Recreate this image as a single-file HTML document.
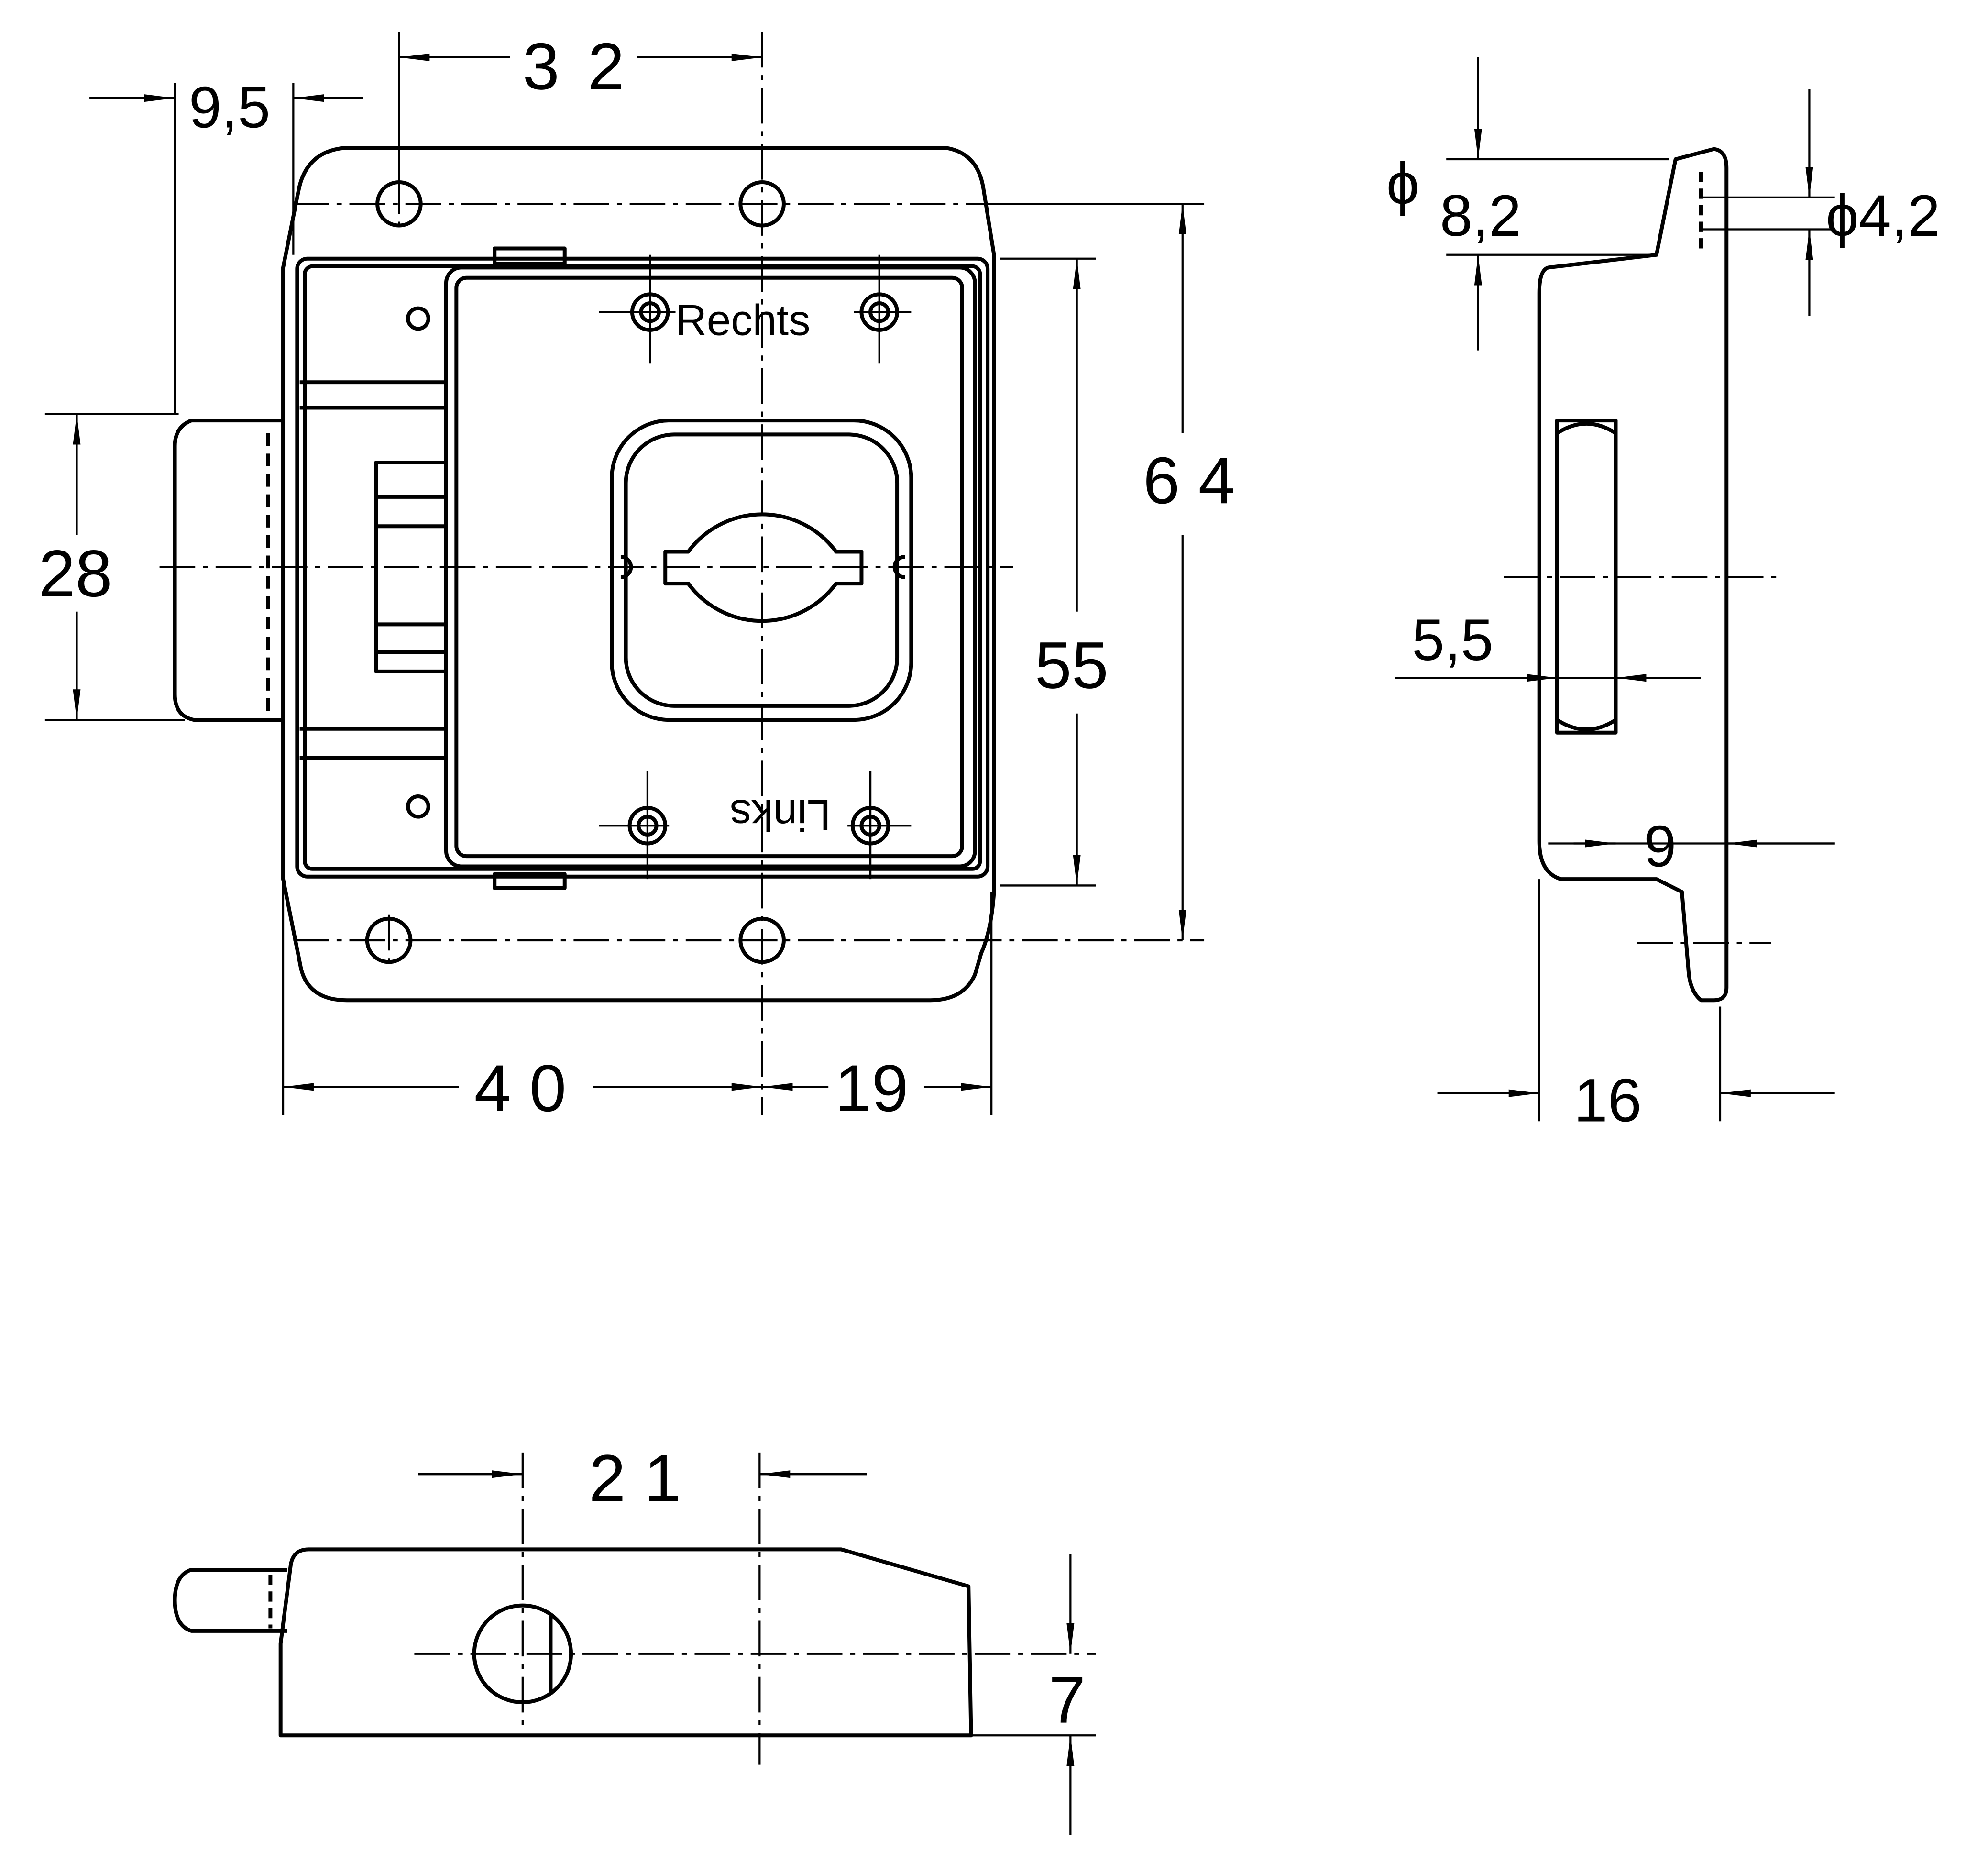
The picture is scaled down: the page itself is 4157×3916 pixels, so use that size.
<!DOCTYPE html>
<html><head><meta charset="utf-8"><style>
html,body{margin:0;padding:0;background:#fff;}
svg{display:block;}
text{font-family:"Liberation Sans",sans-serif;fill:#000;}
</style></head><body>
<svg width="4157" height="3916" viewBox="0 0 1560 1470" xmlns="http://www.w3.org/2000/svg">
<defs>
<marker id="a" viewBox="0 0 24 8" refX="24" refY="4" markerWidth="24" markerHeight="8" markerUnits="userSpaceOnUse" orient="auto">
<path d="M0,1 L24,4 L0,7 Z" fill="#000"/></marker>
</defs>
<g fill="none" stroke="#000" stroke-width="3" stroke-linejoin="round">
<path d="M272,116 L742,116 Q768,120 772,150 L780,200 L780,700 Q778,730 770,748 L765,765 Q756,785 730,785 L272,785 Q242,785 236,760 L222,690 L222,210 Q228,180 234,150 Q240,118 272,116 Z"/>
<rect x="233" y="203" width="542" height="485" rx="8"/>
<rect x="239" y="209" width="530" height="473" rx="6"/>
<rect x="350" y="210" width="415" height="470" rx="12"/>
<rect x="358" y="218" width="397" height="454" rx="8"/>
<rect x="388" y="195" width="55" height="12"/>
<rect x="388" y="686" width="55" height="11"/>
<circle cx="328" cy="250" r="8"/><circle cx="328" cy="633" r="8"/>
<path d="M235,300 H350 M235,320 H350 M235,572 H350 M235,595 H350"/>
<rect x="295" y="363" width="55" height="164"/>
<path d="M295,390 H350 M295,413 H350 M295,490 H350 M295,512 H350"/>
<path d="M222,330 L150,330 Q137,335 137,350 L137,545 Q137,562 152,565 L222,565"/>
<path d="M210,340 V560" stroke-dasharray="10,6"/>
<circle cx="313" cy="160" r="17"/><circle cx="598" cy="160" r="17"/>
<circle cx="305" cy="738" r="17"/><circle cx="598" cy="738" r="17"/>
<circle cx="510" cy="245" r="14"/><circle cx="510" cy="245" r="7"/>
<circle cx="690" cy="245" r="14"/><circle cx="690" cy="245" r="7"/>
<circle cx="508" cy="648" r="14"/><circle cx="508" cy="648" r="7"/>
<circle cx="683" cy="648" r="14"/><circle cx="683" cy="648" r="7"/>
<path d="M510,200 V285 M690,200 V285 M508,605 V690 M683,605 V690 M470,245 H530 M670,245 H715 M470,648 H525 M665,648 H715" stroke-width="1.6"/>
<rect x="480" y="330" width="235" height="235" rx="45"/>
<rect x="491" y="341" width="213" height="213" rx="38"/>
<path d="M540,433 A72,72 0 0 1 656,433 L676,433 L676,458 L656,458 A72,72 0 0 1 540,458 L522,458 L522,433 Z"/>
<path d="M487,437 A8,8 0 0 1 487,453 M710,437 A8,8 0 0 0 710,453"/>
<g stroke-width="1.6" stroke-dasharray="28,6,4,6">
<path d="M598,25 V875 M125,445 H795 M230,160 H775 M230,738 H945 M313,140 V180 M305,718 V758"/>
</g>
<g stroke-width="1.6">
<path d="M313,25 V140 M137,65 V325 M230,65 V200 M35,325 H140 M35,565 H145 M775,160 H945 M785,203 H860 M785,695 H860 M222,690 V875 M778,700 V875"/>
<path d="M400,45 H313" marker-end="url(#a)"/><path d="M500,45 H598" marker-end="url(#a)"/>
<path d="M70,77 H137" marker-end="url(#a)"/><path d="M285,77 H230" marker-end="url(#a)"/>
<path d="M60,420 V325" marker-end="url(#a)"/><path d="M60,480 V565" marker-end="url(#a)"/>
<path d="M928,340 V160" marker-end="url(#a)"/><path d="M928,420 V738" marker-end="url(#a)"/>
<path d="M845,480 V203" marker-end="url(#a)"/><path d="M845,560 V695" marker-end="url(#a)"/>
<path d="M360,853 H222" marker-end="url(#a)"/><path d="M465,853 H598" marker-end="url(#a)"/>
<path d="M650,853 H598" marker-end="url(#a)"/><path d="M725,853 H778" marker-end="url(#a)"/>
</g>
<path d="M1215,210 L1300,200 L1315,125 L1345,117 Q1355,118 1355,132 L1355,775 Q1355,785 1345,785 L1335,785 Q1326,778 1325,760 L1320,700 L1300,690 L1225,690 Q1208,685 1208,660 L1208,230 Q1208,212 1215,210 Z"/>
<path d="M1222,330 H1268 V575 H1222 Z"/>
<path d="M1222,340 Q1245,325 1268,340 M1222,565 Q1245,580 1268,565"/>
<path d="M1335,135 V195" stroke-dasharray="8,5"/>
<g stroke-width="1.6">
<path d="M1135,125 H1310 M1135,200 H1300 M1335,155 H1440 M1335,180 H1440 M1095,532 H1335 M1215,662 H1440 M1208,690 V880 M1350,790 V880"/>
<path d="M1160,45 V125" marker-end="url(#a)"/><path d="M1160,275 V200" marker-end="url(#a)"/>
<path d="M1420,70 V155" marker-end="url(#a)"/><path d="M1420,248 V180" marker-end="url(#a)"/>
<path d="M1195,532 H1222" marker-end="url(#a)"/><path d="M1300,532 H1268" marker-end="url(#a)"/>
<path d="M1235,662 H1268" marker-end="url(#a)"/><path d="M1440,662 H1355" marker-end="url(#a)"/>
<path d="M1128,858 H1208" marker-end="url(#a)"/><path d="M1440,858 H1350" marker-end="url(#a)"/>
<g stroke-dasharray="28,6,4,6"><path d="M1180,453 H1400 M1285,740 H1390"/></g>
</g>
<path d="M228,1228 Q230,1216 242,1216 L660,1216 L760,1245 L762,1362 L220,1362 L220,1290 Z"/>
<path d="M225,1232 L150,1232 Q137,1236 137,1256 Q137,1276 150,1280 L225,1280"/>
<path d="M212,1236 V1278" stroke-dasharray="8,5"/>
<circle cx="410" cy="1298" r="38"/>
<path d="M432,1268 V1330"/>
<g stroke-width="1.6">
<g stroke-dasharray="28,6,4,6"><path d="M410,1140 V1360 M596,1140 V1385 M325,1298 H860"/></g>
<path d="M328,1157 H410" marker-end="url(#a)"/><path d="M680,1157 H596" marker-end="url(#a)"/>
<path d="M762,1362 H860"/>
<path d="M840,1220 V1298" marker-end="url(#a)"/><path d="M840,1440 V1362" marker-end="url(#a)"/>
</g>
</g>
<g font-size="52">
<text x="410" y="70" textLength="80">3 2</text>
<text x="148" y="100" font-size="46">9,5</text>
<text x="30" y="468">28</text>
<text x="897" y="395">6 4</text>
<text x="812" y="540">55</text>
<text x="372" y="872">4 0</text>
<text x="655" y="872">19</text>
<text x="1088" y="160" font-size="46">ϕ</text>
<text x="1130" y="185" font-size="46">8,2</text>
<text x="1433" y="185" font-size="46">ϕ4,2</text>
<text x="1108" y="518" font-size="46">5,5</text>
<text x="1290" y="680" font-size="46">9</text>
<text x="1235" y="880" font-size="48">16</text>
<text x="462" y="1178">2 1</text>
<text x="823" y="1352">7</text>
</g>
<text x="530" y="263" font-size="34">Rechts</text>
<text x="0" y="0" font-size="34" transform="translate(652,628) rotate(180)">Links</text>
</svg>
</body></html>
